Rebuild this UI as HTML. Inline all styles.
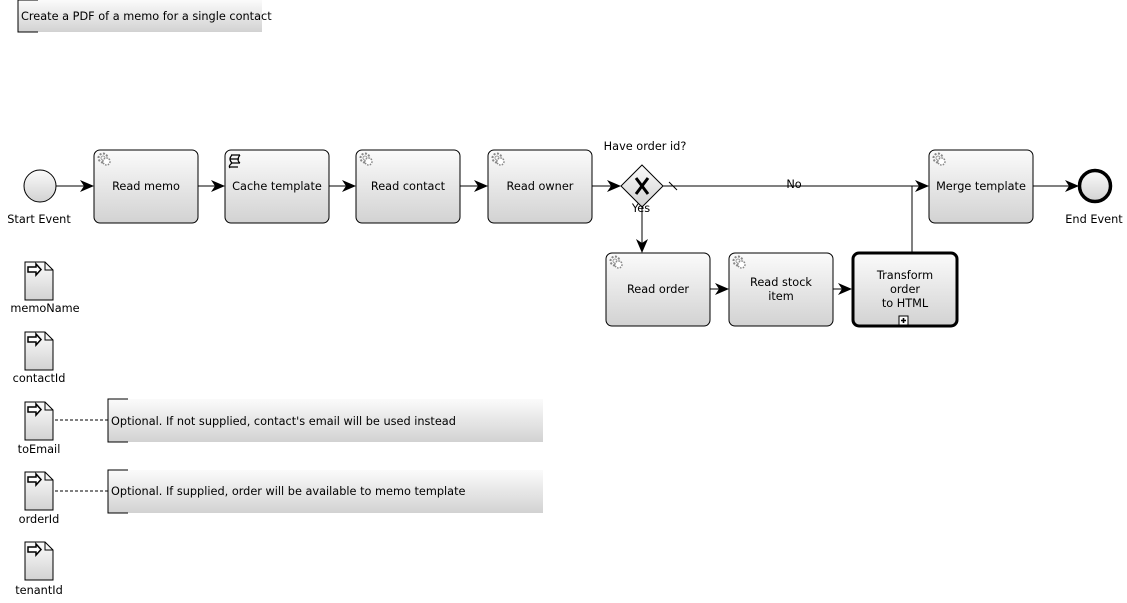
<!DOCTYPE html>
<html><head><meta charset="utf-8"><style>
html,body{margin:0;padding:0;background:#fff;}
svg{display:block;}
text{font-family:"DejaVu Sans","Liberation Sans",sans-serif;font-size:11.3px;fill:#000;}
</style></head><body>
<svg width="1127" height="603" viewBox="0 0 1127 603" xmlns="http://www.w3.org/2000/svg">
<defs>
<linearGradient id="g" x1="0" y1="0" x2="0" y2="1"><stop offset="0" stop-color="#fbfbfb"/><stop offset="1" stop-color="#d2d2d2"/></linearGradient>
<marker id="a" viewBox="0 0 14 12" refX="13" refY="6" markerWidth="14" markerHeight="12" markerUnits="userSpaceOnUse" orient="auto"><path d="M0,0 L14,6 L0,12 L4,6 Z" fill="#000"/></marker>
<g id="gear"><circle cx="0" cy="0" r="4.5" fill="none" stroke="#888" stroke-width="2" stroke-dasharray="2 1.5"/><circle cx="0" cy="0" r="2" fill="none" stroke="#888" stroke-width="0.8"/><circle cx="3.5" cy="3.5" r="3.5" fill="#fff" stroke="#888" stroke-width="1.5" stroke-dasharray="1.5 1.2"/></g>
<g id="doc"><path d="M0,0 H20 L28,8 V38 H0 Z" fill="url(#g)" stroke="#000"/><path d="M20,0 V8 H28" fill="none" stroke="#000"/><path d="M3,5 H11 V2 L16,7.5 L11,13 V10 H3 Z" fill="#fff" stroke="#000" stroke-width="1.5"/></g>
</defs>

<rect x="18" y="0" width="244" height="32" fill="url(#g)"/>
<path d="M38,0 H18 V32 H38" fill="none" stroke="#000"/>
<text x="21" y="20">Create a PDF of a memo for a single contact</text>

<g stroke="#000" fill="none" stroke-width="1">
<line x1="56" y1="186" x2="93" y2="186" marker-end="url(#a)"/>
<line x1="198" y1="186" x2="224" y2="186" marker-end="url(#a)"/>
<line x1="329" y1="186" x2="355" y2="186" marker-end="url(#a)"/>
<line x1="460" y1="186" x2="487" y2="186" marker-end="url(#a)"/>
<line x1="592" y1="186" x2="620" y2="186" marker-end="url(#a)"/>
<line x1="663" y1="186" x2="928" y2="186" marker-end="url(#a)"/>
<line x1="669" y1="182" x2="677" y2="190"/>
<line x1="642" y1="207" x2="642" y2="252" marker-end="url(#a)"/>
<line x1="710" y1="289" x2="728" y2="289" marker-end="url(#a)"/>
<line x1="833" y1="289" x2="851" y2="289" marker-end="url(#a)"/>
<line x1="912" y1="252" x2="912" y2="186"/>
<line x1="1033" y1="186" x2="1078" y2="186" marker-end="url(#a)"/>
<line x1="55" y1="420" x2="108" y2="420" stroke-dasharray="3 2"/>
<line x1="55" y1="491" x2="108" y2="491" stroke-dasharray="3 2"/>
</g>

<circle cx="40" cy="186" r="16" fill="url(#g)" stroke="#000"/>
<text x="39" y="223" text-anchor="middle">Start Event</text>
<circle cx="1095" cy="186" r="15.5" fill="url(#g)" stroke="#000" stroke-width="3.5"/>
<text x="1094" y="223" text-anchor="middle">End Event</text>

<g stroke="#000" fill="url(#g)">
<rect x="94" y="150" width="104" height="73" rx="6"/>
<rect x="225" y="150" width="104" height="73" rx="6"/>
<rect x="356" y="150" width="104" height="73" rx="6"/>
<rect x="488" y="150" width="104" height="73" rx="6"/>
<rect x="929" y="150" width="104" height="73" rx="6"/>
<rect x="606" y="253" width="104" height="73" rx="6"/>
<rect x="729" y="253" width="104" height="73" rx="6"/>
<rect x="853" y="253" width="104" height="73" rx="6" stroke-width="3"/>
</g>
<use href="#gear" x="103" y="158"/>
<use href="#gear" x="365" y="158"/>
<use href="#gear" x="497" y="158"/>
<use href="#gear" x="938" y="158"/>
<use href="#gear" x="615" y="261"/>
<use href="#gear" x="738" y="261"/>
<g stroke="#000" fill="none" stroke-width="1.2"><path d="M231,155 H240 M230,159 H239 M231,163 H240 M229,167 H238 M232,155 Q228,159 232,163 Q228,166 230,168 M240,155 Q236,160 240,163"/></g>
<text x="146" y="190" text-anchor="middle">Read memo</text>
<text x="277" y="190" text-anchor="middle">Cache template</text>
<text x="408" y="190" text-anchor="middle">Read contact</text>
<text x="540" y="190" text-anchor="middle">Read owner</text>
<text x="981" y="190" text-anchor="middle">Merge template</text>
<text x="658" y="293" text-anchor="middle">Read order</text>
<text x="781" y="286" text-anchor="middle">Read stock</text>
<text x="781" y="300" text-anchor="middle">item</text>
<text x="905" y="279" text-anchor="middle">Transform</text>
<text x="905" y="293" text-anchor="middle">order</text>
<text x="905" y="307" text-anchor="middle">to HTML</text>
<rect x="899" y="316" width="9" height="9" fill="#fff" stroke="#000"/>
<path d="M903.5,318 V323 M901,320.5 H906" stroke="#000" stroke-width="1.6"/>

<path d="M642,165 L663,186 L642,207 L621,186 Z" fill="url(#g)" stroke="#000"/>
<path d="M636,178 L648,194 M648,178 L636,194" stroke="#000" stroke-width="3"/>
<text x="645" y="150" text-anchor="middle">Have order id?</text>
<text x="641" y="212" text-anchor="middle">Yes</text>
<text x="794" y="188" text-anchor="middle">No</text>

<use href="#doc" x="25" y="262"/><text x="45" y="312" text-anchor="middle">memoName</text>
<use href="#doc" x="25" y="332"/><text x="39" y="382" text-anchor="middle">contactId</text>
<use href="#doc" x="25" y="402"/><text x="39" y="453" text-anchor="middle">toEmail</text>
<use href="#doc" x="25" y="472"/><text x="39" y="523" text-anchor="middle">orderId</text>
<use href="#doc" x="25" y="542"/><text x="39" y="594" text-anchor="middle">tenantId</text>

<rect x="108" y="399" width="435" height="43" fill="url(#g)"/>
<path d="M128,399 H108 V442 H128" fill="none" stroke="#000"/>
<text x="111" y="425">Optional. If not supplied, contact's email will be used instead</text>
<rect x="108" y="470" width="435" height="43" fill="url(#g)"/>
<path d="M128,470 H108 V513 H128" fill="none" stroke="#000"/>
<text x="111" y="495">Optional. If supplied, order will be available to memo template</text>
</svg>
</body></html>
